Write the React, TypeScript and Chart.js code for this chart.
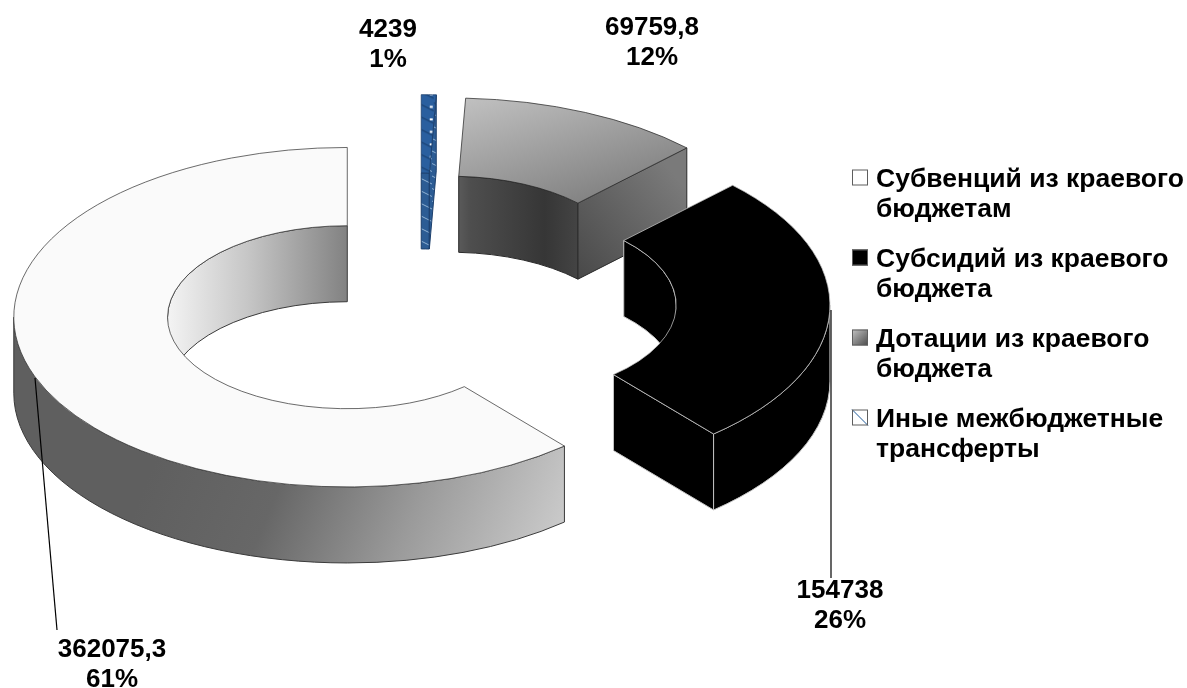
import React, { useEffect, useRef } from "react";
import { Chart, registerables } from "chart.js";

Chart.register(...registerables);

// Data, in legend order
const categories: string[][] = [
  ["Субвенций из краевого", "бюджетам"],
  ["Субсидий из краевого", "бюджета"],
  ["Дотации из краевого", "бюджета"],
  ["Иные межбюджетные", "трансферты"],
];
const seriesValues: number[] = [362075.3, 154738, 69759.8, 4239];

// Layout constants (reference pixel space)
const W = 1187;
const H = 688;
const TILT = 0.509;
const DEPTH = 76;
const EXPLODE = 77;
const BASE_X = 419.5;
const BASE_Y = 303.6;
const LABEL_FONT = 'bold 26px "Liberation Sans", Arial, sans-serif';
const LEGEND_FONT = 'bold 26.5px "Liberation Sans", Arial, sans-serif';
const LINE = 30;

// in legend order: [centre x, first line middle y]
const labelAnchors: number[][] = [
  [112, 650],
  [840, 591],
  [652, 28],
  [388, 30],
];
const leaderLines: (number[] | null)[] = [
  [35, 378, 57, 630],
  [831, 310, 831, 578],
  null,
  null,
];

const total = seriesValues.reduce((a, b) => a + b, 0);
const chartLabels = categories.map((c) => c.join(" ")).reverse();
const chartValues = [...seriesValues].reverse();

const ARC_X = BASE_X;
const ARC_Y = H / 2;

function hatchTile(dots: boolean): HTMLCanvasElement {
  const c = document.createElement("canvas");
  c.width = 16;
  c.height = 25;
  const g = c.getContext("2d")!;
  g.fillStyle = dots ? "#2a5f9f" : "#2c5c94";
  g.fillRect(0, 0, 16, 25);
  g.strokeStyle = dots ? "#173b68" : "#8fb0d2";
  g.lineWidth = 1;
  for (const y of [6, 18.5]) {
    g.beginPath();
    g.moveTo(0, y - 5);
    g.lineTo(16, y + 3);
    g.stroke();
    g.beginPath();
    g.moveTo(0, y - 5 + 25);
    g.lineTo(16, y + 3 + 25);
    g.stroke();
  }
  if (dots) {
    g.fillStyle = "#ffffff";
    for (const y of [4, 16.5]) g.fillRect(12, y, 3, 2);
  }
  return c;
}

function visibleRanges(a0: number, a1: number, from: number, to: number): number[][] {
  const out: number[][] = [];
  for (let n = -1; n <= 1; n++) {
    const s = Math.max(a0, from + n * 2 * Math.PI);
    const e = Math.min(a1, to + n * 2 * Math.PI);
    if (e > s) out.push([s, e]);
  }
  return out;
}

function linear(ctx: CanvasRenderingContext2D, x0: number, y0: number, x1: number, y1: number, stops: [number, string][]) {
  const g = ctx.createLinearGradient(x0, y0, x1, y1);
  stops.forEach(([o, c]) => g.addColorStop(o, c));
  return g;
}

function grayTop(ctx: CanvasRenderingContext2D) {
  const g = ctx.createLinearGradient(ARC_X - 15, ARC_Y - 340, ARC_X + 170, ARC_Y - 40);
  g.addColorStop(0, "#c6c6c6");
  g.addColorStop(1, "#6a6a6a");
  return g;
}

const pie3dPlugin = {
  id: "pie3d",
  beforeDatasetDraw(chart: any) {
    const ctx: CanvasRenderingContext2D = chart.ctx;
    const arcs: any[] = chart.getDatasetMeta(0).data;
    const tileWall = ctx.createPattern(hatchTile(false), "repeat")!;

    const items = arcs.map((arc, i) => {
      const mid = (arc.startAngle + arc.endAngle) / 2;
      return {
        arc,
        i,
        cx: BASE_X + EXPLODE * Math.cos(mid),
        cy: BASE_Y + EXPLODE * TILT * Math.sin(mid),
      };
    });
    items.sort((a, b) => a.cy - b.cy);

    for (const { arc, i, cx, cy } of items) {
      const R = arc.outerRadius;
      const r = arc.innerRadius;
      const a0 = arc.startAngle;
      const a1 = arc.endAngle;
      const pt = (rad: number, a: number, d = 0) => [cx + rad * Math.cos(a), cy + rad * TILT * Math.sin(a) + d];

      // index in reversed order: 0 blue, 1 gray, 2 black, 3 white
      const stroke = ["#1c3f6c", "#2a2a2a", "#c4c4c4", "#3a3a3a"][i];
      const innerFill = [
        tileWall,
        linear(ctx, cx + 10, 0, cx + 130, 0, [[0, "#585858"], [0.08, "#4e4e4e"], [0.7, "#363636"], [1, "#454545"]]),
        "#000000",
        linear(ctx, 167, 0, 347, 0, [[0, "#f4f4f4"], [0.45, "#c6c6c6"], [1, "#828282"]]),
      ][i];
      const outerFill = [
        tileWall,
        "#666666",
        "#000000",
        linear(ctx, 180, 400, 565, 560, [[0, "#5f5f5f"], [0.3, "#676767"], [0.62, "#9a9a9a"], [1, "#cfcfcf"]]),
      ][i];
      const sideFill = [
        tileWall,
        linear(ctx, 577, 280, 687, 190, [[0, "#484848"], [1, "#7a7a7a"]]),
        "#000000",
        "#999999",
      ][i];

      ctx.save();
      ctx.lineWidth = 1;
      ctx.strokeStyle = stroke;
      ctx.lineJoin = "round";

      const band = (rad: number, s: number, e: number, fill: any) => {
        ctx.beginPath();
        ctx.ellipse(cx, cy, rad, rad * TILT, 0, s, e);
        ctx.ellipse(cx, cy + DEPTH, rad, rad * TILT, 0, e, s, true);
        ctx.closePath();
        ctx.fillStyle = fill;
        ctx.fill();
        ctx.stroke();
      };

      // inner wall, far half only
      for (const [s, e] of visibleRanges(a0, a1, -Math.PI, 0)) band(r, s, e, innerFill);

      // radial walls that face the viewer
      const side = (a: number) => {
        const p = [pt(r, a), pt(R, a), pt(R, a, DEPTH), pt(r, a, DEPTH)];
        ctx.beginPath();
        ctx.moveTo(p[0][0], p[0][1]);
        p.slice(1).forEach((q) => ctx.lineTo(q[0], q[1]));
        ctx.closePath();
        ctx.fillStyle = sideFill;
        ctx.fill();
        ctx.stroke();
      };
      if (Math.cos(a0) < -1e-6) side(a0);
      if (Math.cos(a1) > 1e-6) side(a1);

      // outer wall, near half only
      for (const [s, e] of visibleRanges(a0, a1, 0, Math.PI)) band(R, s, e, outerFill);

      // top surface: the library's own arc element, tilted and moved out
      ctx.translate(cx, cy);
      ctx.scale(1, TILT);
      ctx.translate(-arc.x, -arc.y);
      arc.draw(ctx);
      ctx.restore();
    }
    return false;
  },
  afterDraw(chart: any) {
    const ctx: CanvasRenderingContext2D = chart.ctx;
    ctx.save();
    ctx.fillStyle = "#000000";
    ctx.textBaseline = "middle";

    // data labels and leader lines
    ctx.font = LABEL_FONT;
    seriesValues.forEach((v, i) => {
      const line = leaderLines[i];
      if (line) {
        ctx.beginPath();
        ctx.moveTo(line[0], line[1]);
        ctx.lineTo(line[2], line[3]);
        ctx.strokeStyle = "#000000";
        ctx.lineWidth = 1.2;
        ctx.stroke();
      }
      const [x, y] = labelAnchors[i];
      ctx.textAlign = "center";
      ctx.fillText(String(v).replace(".", ","), x, y);
      ctx.fillText(Math.round((v / total) * 100) + "%", x, y + LINE);
    });

    // legend
    ctx.font = LEGEND_FONT;
    ctx.textAlign = "left";
    categories.forEach((lines, i) => {
      const y = 179.5 + i * 80;
      const sx = 852;
      const sy = y - 10;
      const size = 16;
      if (i === 0) {
        ctx.fillStyle = "#ffffff";
      } else if (i === 1) {
        ctx.fillStyle = "#000000";
      } else if (i === 2) {
        ctx.fillStyle = linear(ctx, sx, sy, sx + size, sy + size, [[0, "#c4c4c4"], [1, "#4a4a4a"]]);
      } else {
        ctx.fillStyle = "#ffffff";
      }
      ctx.fillRect(sx, sy, size, size);
      if (i === 3) {
        ctx.beginPath();
        ctx.moveTo(sx, sy);
        ctx.lineTo(sx + size, sy + size);
        ctx.strokeStyle = "#1f5a99";
        ctx.lineWidth = 1;
        ctx.stroke();
      }
      ctx.strokeStyle = "#5e5e5e";
      ctx.lineWidth = 1;
      ctx.strokeRect(sx + 0.5, sy + 0.5, size - 1, size - 1);
      ctx.fillStyle = "#000000";
      lines.forEach((t, j) => ctx.fillText(t, 876, y + j * LINE));
    });
    ctx.restore();
  },
};

export default function App() {
  const ref = useRef<HTMLCanvasElement | null>(null);

  useEffect(() => {
    document.body.style.margin = "0";
    const canvas = ref.current!;
    const ctx2d = canvas.getContext("2d")!;
    const blueTop = ctx2d.createPattern(hatchTile(true), "repeat")!;
    blueTop.setTransform(new DOMMatrix().scale(1, 1 / TILT));

    const chart = new Chart(canvas, {
      type: "doughnut",
      data: {
        labels: chartLabels,
        datasets: [
          {
            data: chartValues,
            backgroundColor: [blueTop, grayTop(ctx2d), "#000000", "#fafafa"],
            borderColor: ["#1c3f6c", "#2a2a2a", "#c4c4c4", "#3a3a3a"],
            borderWidth: 1,
          },
        ],
      },
      options: {
        responsive: false,
        devicePixelRatio: 1,
        animation: false,
        cutout: "53.9%",
        layout: {
          padding: { top: 10, bottom: 10, left: ARC_X - 334, right: W - ARC_X - 334 },
        },
        plugins: {
          legend: { display: false },
          tooltip: { enabled: false },
        },
      },
      plugins: [pie3dPlugin],
    } as any);
    return () => chart.destroy();
  }, []);

  return <canvas ref={ref} width={W} height={H} style={{ display: "block" }} />;
}
